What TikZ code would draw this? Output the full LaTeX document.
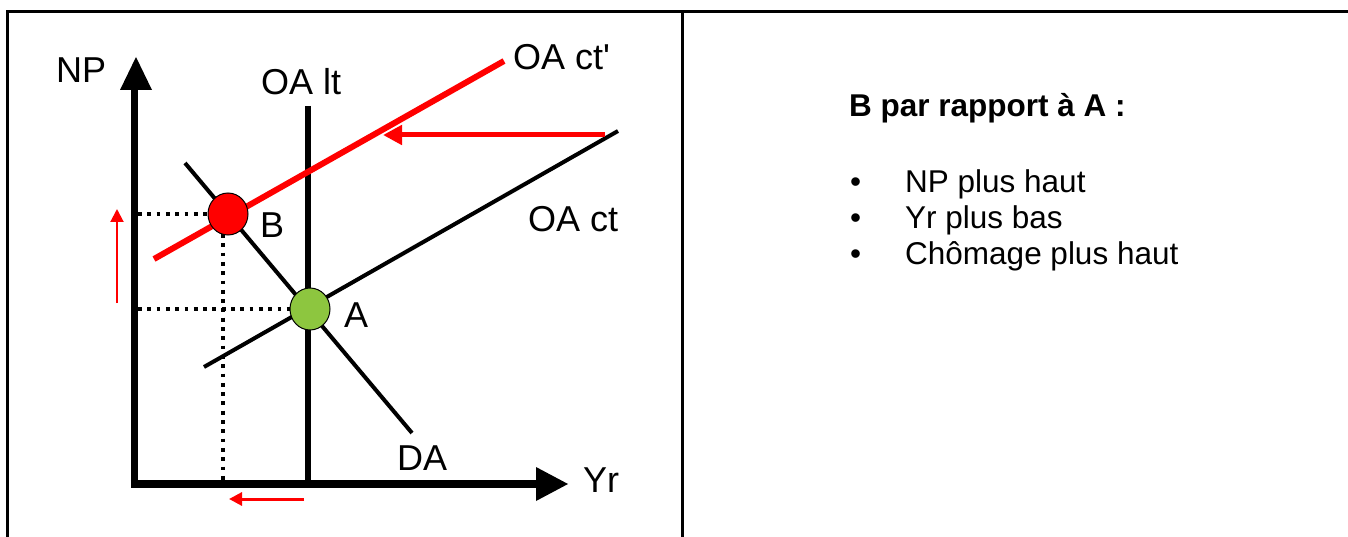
\documentclass[tikz,border=0pt]{standalone}
\usepackage{fontspec}
\setmainfont{Liberation Sans}
\newfontfamily\lsans{Liberation Sans}
\usetikzlibrary{arrows.meta,shapes.geometric}
\definecolor{ptgreen}{HTML}{8DC63F}
\definecolor{ptred}{HTML}{FF0000}
\tikzset{
  lbl/.style={inner sep=0pt, anchor=base west, font=\lsans\fontsize{36}{43}\selectfont},
  txt/.style={inner sep=0pt, anchor=base west, font=\fontsize{31.5}{38}\selectfont},
  frameline/.style={line width=3pt, black},
  axisline/.style={line width=7.5pt, black},
  dotline/.style={line width=3.5pt, dash pattern=on 3.8pt off 5.5pt, black},
  curve/.style={line width=4pt, black},
  eqpt/.style={draw=black, line width=1pt, ellipse, minimum width=40pt, minimum height=42pt, inner sep=0pt},
  redarrow/.style={ptred, -{Triangle[length=#1pt, width=#1pt]}},
}
\begin{document}
\begin{tikzpicture}[x=1pt,y=-1pt]
\useasboundingbox (0,0) rectangle (1348,537);
% frame
\coordinate (f1) at (7,537);
\coordinate (f2) at (7,12);
\coordinate (f3) at (1348,12);
\coordinate (m1) at (682,12);
\coordinate (m2) at (682,537);
\draw[frameline] (f1) -- (f2) -- (f3);
\draw[frameline] (m1) -- (m2);
% coordinates
\coordinate (ytop) at (134.5,90);
\coordinate (xend) at (537,484);
\coordinate (lt1) at (308,106);
\coordinate (lt2) at (308,484);
\coordinate (ct1) at (204,367);
\coordinate (ct2) at (618,131);
\coordinate (cp1) at (154,259);
\coordinate (cp2) at (504,61);
\coordinate (da1) at (185,163);
\coordinate (da2) at (412,433);
% dotted guides
\coordinate (hB) at (138,214);
\coordinate (vB1) at (223,234);
\coordinate (vB2) at (223,484);
\coordinate (hA) at (138,309);
\coordinate (hBe) at (210,214);
\coordinate (hAe) at (292,309);
\draw[dotline] (hB) -- (hBe);
\draw[dotline] (vB1) -- (vB2);
\draw[dotline] (hA) -- (hAe);
% curves
\draw[curve] (da1) -- (da2);
\draw[curve] (ct1) -- (ct2);
\draw[line width=5.5pt] (lt1) -- (lt2);
\draw[ptred, line width=6pt] (cp1) -- (cp2);
% axes
\draw[axisline] (134.5,487.75) -- (ytop);
\draw[axisline] (130.75,484) -- (xend);
\fill[black] (120,90) -- (152,90) -- (136,57) -- cycle;
\fill[black] (536,467) -- (536,501) -- (568,484) -- cycle;
% equilibrium points
\node[eqpt, fill=ptred] (B) at (228,214) {};
\node[eqpt, fill=ptgreen] (A) at (310,309) {};
% shift arrows
\coordinate (r1s) at (605,135);
\coordinate (r1e) at (383,135);
\draw[redarrow=19, line width=5pt] (r1s) -- (r1e);
\coordinate (r2s) at (117,303);
\coordinate (r2e) at (117,209);
\draw[redarrow=13, line width=2pt] (r2s) -- (r2e);
\coordinate (r3s) at (304,499);
\coordinate (r3e) at (229,499);
\draw[redarrow=13, line width=3pt] (r3s) -- (r3e);
% labels
\node[lbl] (lNP) at (56,83) {NP};
\node[lbl] (lOAlt) at (261,95) {OA lt};
\node[lbl] (lOAcp) at (513,70) {OA ct'};
\node[lbl] (lOAct) at (528,232) {OA ct};
\node[lbl] (lB) at (260,237) {B};
\node[lbl] (lA) at (344,327) {A};
\node[lbl] (lDA) at (397,470) {DA};
\node[lbl] (lYr) at (583,492) {Yr};
% right panel
\node[txt, font=\fontsize{31.5}{38}\selectfont\bfseries] (head) at (849,117) {B par rapport à A :};
\node[txt] (b1) at (850,193) {•};
\node[txt] (t1) at (905,193) {NP plus haut};
\node[txt] (b2) at (850,229) {•};
\node[txt] (t2) at (905,229) {Yr plus bas};
\node[txt] (b3) at (850,265) {•};
\node[txt] (t3) at (905,265) {Chômage plus haut};
\end{tikzpicture}
\end{document}
